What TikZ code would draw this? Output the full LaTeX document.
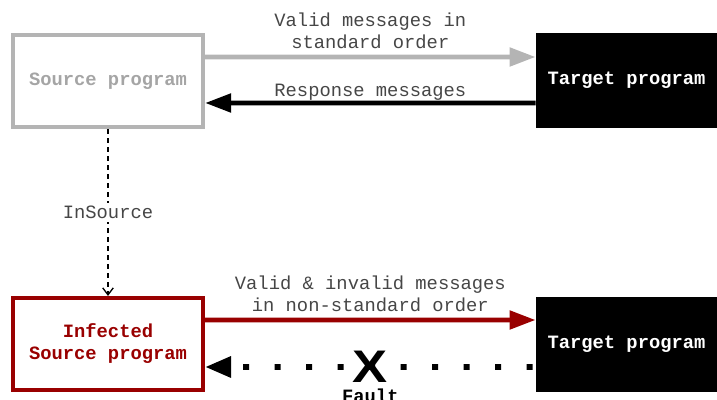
\documentclass[tikz,border=0pt]{standalone}
\usepackage{fontspec}
\setmonofont{Liberation Mono}
\usepackage{tikz}
\usetikzlibrary{arrows.meta, positioning}

\definecolor{srcgray}{RGB}{180,180,180}
\definecolor{srctext}{RGB}{165,165,165}
\definecolor{infred}{RGB}{153,0,0}
\definecolor{lbltext}{RGB}{70,70,70}

\begin{document}
\begin{tikzpicture}[font=\ttfamily\fontsize{10.7}{12.5}\selectfont,
  prog/.style={minimum width=3.8cm, minimum height=1.84cm, line width=2.3pt, align=center, font=\ttfamily\bfseries\fontsize{10.7}{12.5}\selectfont},
  target/.style={fill=black, text=white, minimum width=3.62cm, minimum height=1.9cm, font=\ttfamily\bfseries\fontsize{10.7}{12.5}\selectfont},
  msg/.style={line width=2.8pt, -{Triangle[length=0.52cm, width=0.36cm]}},
  lbl/.style={text=lbltext, align=center, inner sep=1.5pt}]
\useasboundingbox (0,0) rectangle (14.34,8);

% --- Normal session (top) ---
\node[prog, draw=srcgray, text=srctext] (src) at (2.16, 6.38) {Source program};
\node[target] (tgt1) at (12.53, 6.39) {Target program};

\draw[msg, srcgray] ([yshift=0.48cm]src.east) -- node[lbl, above=2pt] {Valid messages in\\standard order} ([yshift=0.47cm]tgt1.west);
\draw[msg, black] ([yshift=-0.45cm]tgt1.west) -- node[lbl, above=-1.4pt] {Response messages} ([yshift=-0.44cm]src.east);

% --- Infected session (bottom) ---
\node[prog, draw=infred, text=infred] (inf) at (2.16, 1.12) {Infected\\Source program};
\node[target] (tgt2) at (12.53, 1.11) {Target program};

\draw[msg, infred] ([yshift=0.48cm]inf.east) -- node[lbl, above=2pt] {Valid \& invalid messages\\in non-standard order} ([yshift=0.49cm]tgt2.west);

% dotted reply, broken by the fault
\draw[line width=3.4pt, dash pattern=on 0.12cm off 0.51cm, dash phase=0.57cm, -{Triangle[length=0.52cm, width=0.4cm]}]
  ([yshift=-0.45cm]tgt2.west) -- node[inner sep=0pt, xscale=1.15] (x) {\fontspec{Liberation Sans}\bfseries\fontsize{26}{26}\selectfont X}
  ([yshift=-0.46cm]inf.east);
\node[font=\ttfamily\bfseries\fontsize{10.7}{12.5}\selectfont, inner sep=0pt] (fault) at ([yshift=-0.58cm]x.center) {Fault};

% infection
\draw[line width=0.75pt, dash pattern=on 0.1cm off 0.08cm, -{Straight Barb[length=4pt, width=6pt]}]
  (src.south) -- node[lbl, fill=white, inner sep=2pt] {InSource} (inf.north);

\end{tikzpicture}
\end{document}
